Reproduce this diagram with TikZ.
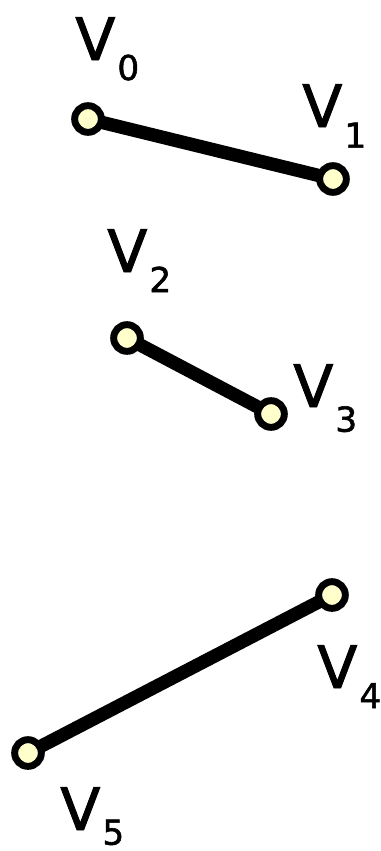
\documentclass[tikz,border=0pt]{standalone}
\usepackage{fontspec}
\setmainfont{DejaVu Sans}[FakeBold=1.6]
\definecolor{vfill}{HTML}{FFFFCC}
\begin{document}
\begin{tikzpicture}[x=0.75pt,y=-0.75pt,
  vert/.style={circle,draw=black,fill=vfill,line width=5.2pt,minimum size=20pt,inner sep=0pt},
  edge/.style={line width=10pt},
  lbl/.style={anchor=base west,inner sep=0pt,font=\fontsize{44}{44}\selectfont}]
\useasboundingbox (0,0) rectangle (380,851);
\newcommand{\vlab}[2]{V\hspace{1.5pt}\raisebox{-#2pt}{\fontsize{25.7}{26}\selectfont #1}}
\coordinate (p0) at (88,119);
\coordinate (p1) at (333,179);
\coordinate (p2) at (127,338);
\coordinate (p3) at (271,414);
\coordinate (p4) at (332,595);
\coordinate (p5) at (28,753);
\draw[edge] (p0) -- (p1);
\draw[edge] (p2) -- (p3);
\draw[edge] (p4) -- (p5);
\node[vert] (v0) at (p0) {};
\node[vert] (v1) at (p1) {};
\node[vert] (v2) at (p2) {};
\node[vert] (v3) at (p3) {};
\node[vert] (v4) at (p4) {};
\node[vert] (v5) at (p5) {};
\node[lbl] (l0) at (75,60) {\vlab{0}{15}};
\node[lbl] (l1) at (302,127) {\vlab{1}{15.5}};
\node[lbl] (l2) at (107,272) {\vlab{2}{15}};
\node[lbl] (l3) at (293,407) {\vlab{3}{18.5}};
\node[lbl] (l4) at (317,688) {\vlab{4}{15}};
\node[lbl] (l5) at (60,830) {\vlab{5}{11}};
\end{tikzpicture}
\end{document}
